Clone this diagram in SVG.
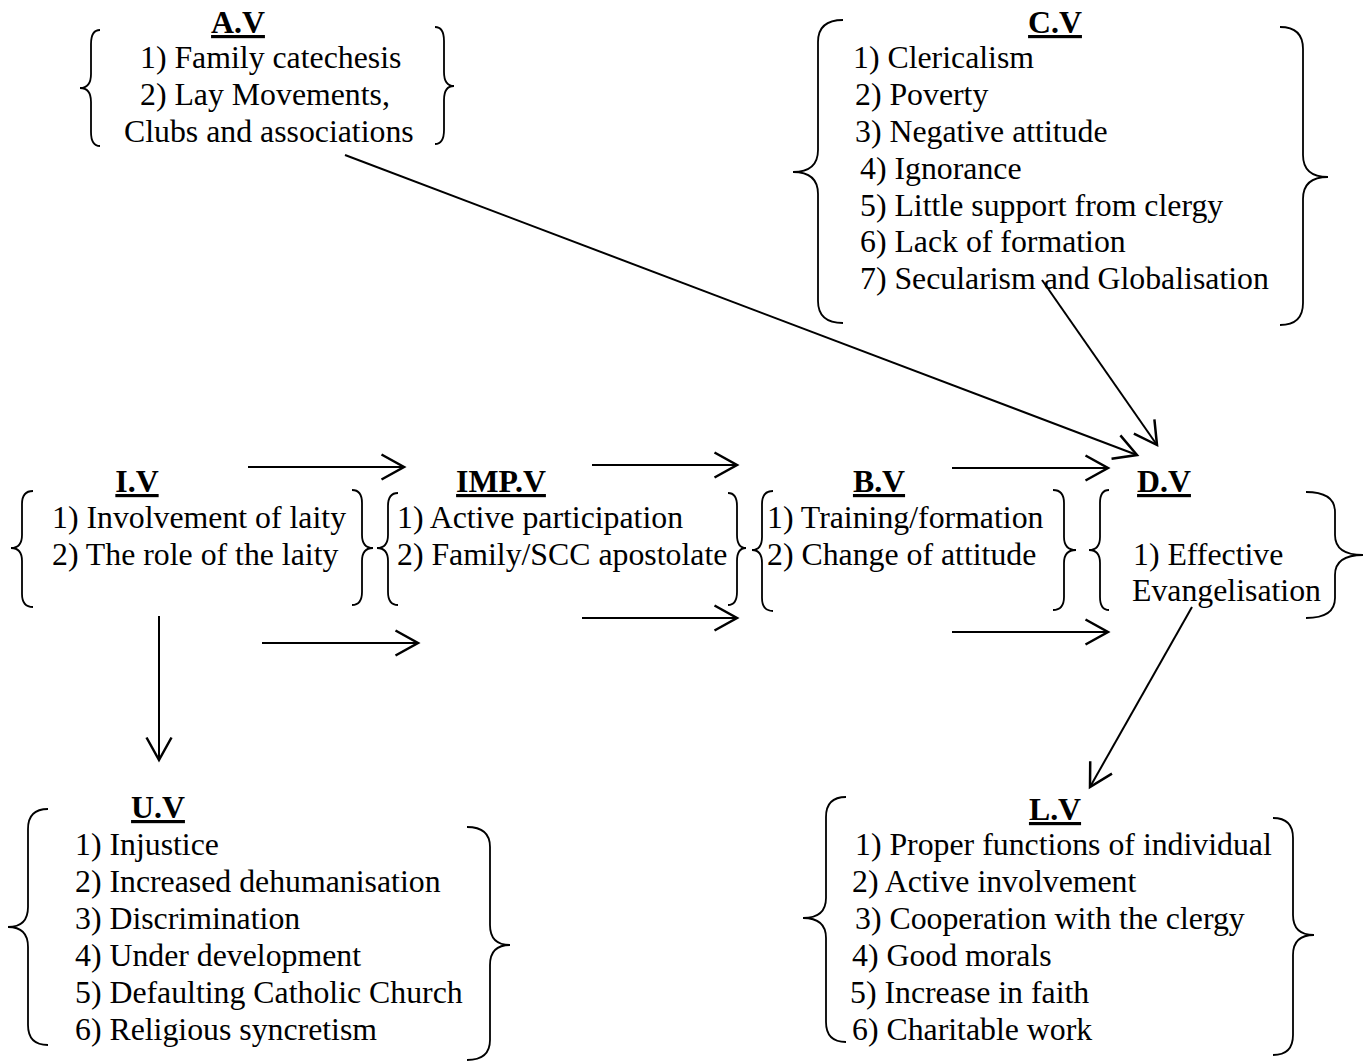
<svg xmlns="http://www.w3.org/2000/svg" width="1372" height="1062" viewBox="0 0 1372 1062">
<style>
text{font-family:"Liberation Serif","Times New Roman",serif;font-size:31.8px;fill:#000}
.t{font-weight:bold;text-anchor:middle;text-decoration:underline}
.br{fill:none;stroke:#000;stroke-width:1.8}
.c line{stroke:#000;stroke-width:2;marker-end:url(#ah)}
</style>
<defs>
<marker id="ah" markerUnits="userSpaceOnUse" markerWidth="30" markerHeight="30" viewBox="-20 -12 22 24" refX="0" refY="0" orient="auto">
<path d="M-18,-10 L0,0 L-18,10" fill="none" stroke="#000" stroke-width="2"/>
</marker>
</defs>
<rect width="1372" height="1062" fill="#fff"/>

<g id="AV">
<path class="br" d="M100,30 Q91,30 91,44 L91,74 Q91,88 80,88 Q91,88 91,102 L91,132 Q91,146 100,146"/>
<path class="br" d="M435,27 Q444,27 444,41 L444,72 Q444,86 454,86 Q444,86 444,100 L444,130 Q444,144 435,144"/>
<text class="t" x="238" y="33">A.V</text>
<text x="140" y="68">1) Family catechesis</text>
<text x="140" y="105">2) Lay Movements,</text>
<text x="124" y="142">Clubs and associations</text>
</g>

<g id="CV">
<path class="br" d="M843,20 Q818,20 818,42 L818,150 Q818,172 793,172 Q818,172 818,194 L818,301 Q818,323 843,323"/>
<path class="br" d="M1280,27 Q1303,27 1303,49 L1303,155 Q1303,177 1328,177 Q1303,177 1303,199 L1303,303 Q1303,325 1280,325"/>
<text class="t" x="1055" y="33">C.V</text>
<text x="853" y="68">1) Clericalism</text>
<text x="855" y="105">2) Poverty</text>
<text x="855" y="142">3) Negative attitude</text>
<text x="860" y="179">4) Ignorance</text>
<text x="860" y="216">5) Little support from clergy</text>
<text x="860" y="252">6) Lack of formation</text>
<text x="860" y="289">7) Secularism and Globalisation</text>
</g>

<g id="IV">
<path class="br" d="M33,491 Q22,491 22,504 L22,535 Q22,548 11,548 Q22,548 22,561 L22,594 Q22,607 33,607"/>
<path class="br" d="M352,490 Q362,490 362,503 L362,535 Q362,548 373,548 Q362,548 362,561 L362,592 Q362,605 352,605"/>
<text class="t" x="137" y="492">I.V</text>
<text x="52" y="528">1) Involvement of laity</text>
<text x="52" y="565">2) The role of the laity</text>
</g>

<g id="IMPV">
<path class="br" d="M398,493 Q388,493 388,506 L388,535 Q388,548 377,548 Q388,548 388,561 L388,592 Q388,605 398,605"/>
<path class="br" d="M728,493 Q737,493 737,506 L737,535 Q737,548 746,548 Q737,548 737,561 L737,592 Q737,605 728,605"/>
<text class="t" x="501" y="492">IMP.V</text>
<text x="397" y="528">1) Active participation</text>
<text x="397" y="565">2) Family/SCC apostolate</text>
</g>

<g id="BV">
<path class="br" d="M773,491 Q762,491 762,504 L762,537 Q762,550 752,550 Q762,550 762,563 L762,598 Q762,611 773,611"/>
<path class="br" d="M1053,490 Q1064,490 1064,503 L1064,537 Q1064,550 1076,550 Q1064,550 1064,563 L1064,597 Q1064,610 1053,610"/>
<text class="t" x="879" y="492">B.V</text>
<text x="767" y="528">1) Training/formation</text>
<text x="767" y="565">2) Change of attitude</text>
</g>

<g id="DV">
<path class="br" d="M1109,490 Q1100,490 1100,503 L1100,537 Q1100,550 1089,550 Q1100,550 1100,563 L1100,597 Q1100,610 1109,610"/>
<path class="br" d="M1306,492 Q1335,492 1335,512 L1335,535 Q1335,555 1363,555 Q1335,555 1335,575 L1335,598 Q1335,618 1306,618"/>
<text class="t" x="1164" y="492">D.V</text>
<text x="1133" y="565">1) Effective</text>
<text x="1132" y="601">Evangelisation</text>
</g>

<g id="UV">
<path class="br" d="M48,809 Q28,809 28,829 L28,907 Q28,927 8,927 Q28,927 28,947 L28,1025 Q28,1045 48,1045"/>
<path class="br" d="M467,827 Q490,827 490,847 L490,925 Q490,945 510,945 Q490,945 490,965 L490,1040 Q490,1060 467,1060"/>
<text class="t" x="158" y="818">U.V</text>
<text x="75" y="855">1) Injustice</text>
<text x="75" y="892">2) Increased dehumanisation</text>
<text x="75" y="929">3) Discrimination</text>
<text x="75" y="966">4) Under development</text>
<text x="75" y="1003">5) Defaulting Catholic Church</text>
<text x="75" y="1040">6) Religious syncretism</text>
</g>

<g id="LV">
<path class="br" d="M846,797 Q826,797 826,817 L826,898 Q826,918 803,918 Q826,918 826,938 L826,1022 Q826,1042 846,1042"/>
<path class="br" d="M1273,818 Q1293,818 1293,838 L1293,915 Q1293,935 1314,935 Q1293,935 1293,955 L1293,1035 Q1293,1055 1273,1055"/>
<text class="t" x="1055" y="820">L.V</text>
<text x="855" y="855">1) Proper functions of individual</text>
<text x="852" y="892">2) Active involvement</text>
<text x="855" y="929">3) Cooperation with the clergy</text>
<text x="852" y="966">4) Good morals</text>
<text x="850" y="1003">5) Increase in faith</text>
<text x="852" y="1040">6) Charitable work</text>
</g>

<g id="connectors" class="c">
<line x1="345" y1="155" x2="1137" y2="455"/>
<line x1="1042" y1="280" x2="1157" y2="445"/>
<line x1="952" y1="468" x2="1108" y2="468"/>
<line x1="952" y1="632" x2="1108" y2="632"/>
<line x1="248" y1="467" x2="404" y2="467"/>
<line x1="262" y1="643" x2="418" y2="643"/>
<line x1="592" y1="465" x2="737" y2="465"/>
<line x1="582" y1="618" x2="737" y2="618"/>
<line x1="159" y1="616" x2="159" y2="760"/>
<line x1="1192" y1="607" x2="1090" y2="787"/>
</g>
</svg>
